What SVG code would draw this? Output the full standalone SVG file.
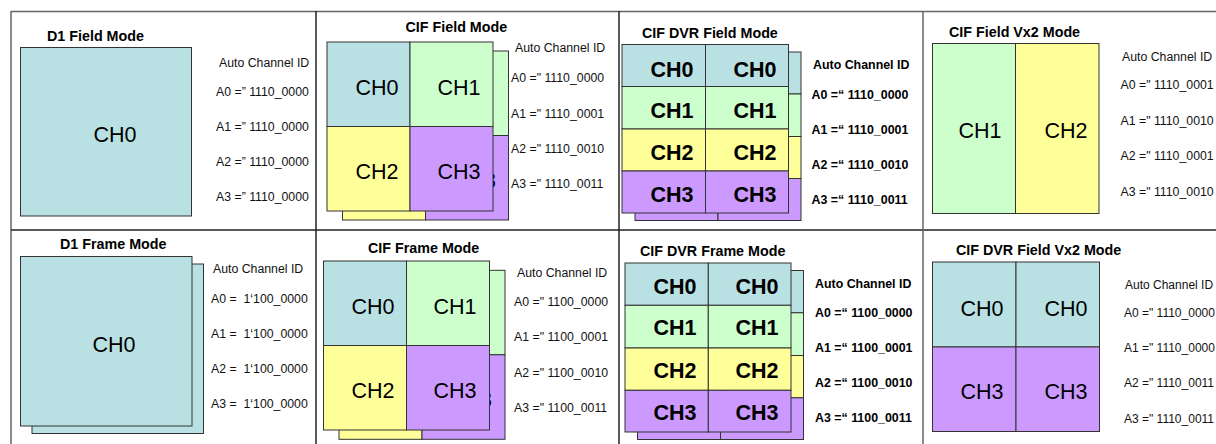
<svg xmlns="http://www.w3.org/2000/svg" width="1216" height="444" viewBox="0 0 1216 444">
<style>
.t{font-family:"Liberation Sans",Arial,sans-serif;font-weight:bold;font-size:14.3px;fill:#000}
.s{font-family:"Liberation Sans",Arial,sans-serif;font-size:12.3px;fill:#111}
.sb{font-family:"Liberation Sans",Arial,sans-serif;font-size:12.4px;font-weight:bold;fill:#000}
.ch{font-family:"Liberation Sans",Arial,sans-serif;font-size:21.5px;text-anchor:middle;fill:#000}
.chb{font-family:"Liberation Sans",Arial,sans-serif;font-size:21.5px;font-weight:bold;text-anchor:middle;fill:#000}
.b{fill:#b9e0e3;stroke:#333;stroke-width:1}
.g{fill:#ccffcc;stroke:#333;stroke-width:1}
.y{fill:#ffff99;stroke:#333;stroke-width:1}
.p{fill:#cc99ff;stroke:#333;stroke-width:1}
.frame{stroke:#666;stroke-width:1.5;fill:none}
.mid{stroke:#222;stroke-width:1.5;fill:none}
</style>
<rect width="1216" height="444" fill="#fff"/>
<g id="frame">
<line class="frame" x1="11" y1="11.5" x2="1216" y2="11.5"/>
<line class="frame" x1="11" y1="11" x2="11" y2="444"/>
<line class="mid" x1="11" y1="230" x2="1216" y2="230"/>
<line class="mid" x1="316" y1="11" x2="316" y2="444"/>
<line class="mid" x1="619" y1="11" x2="619" y2="444"/>
<line class="frame" x1="923" y1="11" x2="923" y2="444"/>
</g>

<g id="d1-field">
<text class="t" x="47" y="41">D1 Field Mode</text>
<rect class="b" x="20.5" y="47.5" width="171" height="168.5"/>
<text class="ch" x="115" y="141.7">CH0</text>
<text class="s" x="219" y="67">Auto Channel ID</text>
<text class="s" x="216" y="96">A0 =” 1110_0000</text>
<text class="s" x="216" y="131">A1 =” 1110_0000</text>
<text class="s" x="216" y="165.5">A2 =” 1110_0000</text>
<text class="s" x="216" y="200.5">A3 =” 1110_0000</text>
</g>

<g id="cif-field">
<text class="t" x="405.5" y="32">CIF Field Mode</text>
<g id="cif-field-back">
<rect class="b" x="342.5" y="51" width="83" height="84.5"/>
<rect class="g" x="425.5" y="51" width="83" height="84.5"/>
<rect class="y" x="342.5" y="135.5" width="83" height="84.5"/>
<rect class="p" x="425.5" y="135.5" width="83" height="84.5"/>
<text class="ch" x="484" y="187.5" style="text-anchor:start">3</text>
</g>
<rect class="b" x="327" y="42" width="83" height="84.5"/>
<rect class="g" x="410" y="42" width="83" height="84.5"/>
<rect class="y" x="327" y="126.5" width="83" height="84.5"/>
<rect class="p" x="410" y="126.5" width="83" height="84.5"/>
<text class="ch" x="377" y="94.5">CH0</text>
<text class="ch" x="459" y="94.5">CH1</text>
<text class="ch" x="377" y="178.5">CH2</text>
<text class="ch" x="459" y="178.5">CH3</text>
<text class="s" x="515" y="52">Auto Channel ID</text>
<text class="s" x="511" y="82">A0 =" 1110_0000</text>
<text class="s" x="511" y="118">A1 =" 1110_0001</text>
<text class="s" x="511" y="153">A2 =" 1110_0010</text>
<text class="s" x="511" y="188">A3 =" 1110_0011</text>
</g>

<g id="cif-dvr-field">
<text class="t" x="642" y="38">CIF DVR Field Mode</text>
<g id="cif-dvr-field-back">
<rect class="b" x="635" y="52" width="83" height="42"/>
<rect class="b" x="718" y="52" width="83" height="42"/>
<rect class="g" x="635" y="94" width="83" height="42.5"/>
<rect class="g" x="718" y="94" width="83" height="42.5"/>
<rect class="y" x="635" y="136.5" width="83" height="42"/>
<rect class="y" x="718" y="136.5" width="83" height="42"/>
<rect class="p" x="635" y="178.5" width="83" height="42"/>
<rect class="p" x="718" y="178.5" width="83" height="42"/>
</g>
<rect class="b" x="622" y="44.5" width="83.5" height="42"/>
<rect class="b" x="705.5" y="44.5" width="83" height="42"/>
<rect class="g" x="622" y="86.5" width="83.5" height="42.5"/>
<rect class="g" x="705.5" y="86.5" width="83" height="42.5"/>
<rect class="y" x="622" y="129" width="83.5" height="42"/>
<rect class="y" x="705.5" y="129" width="83" height="42"/>
<rect class="p" x="622" y="171" width="83.5" height="42"/>
<rect class="p" x="705.5" y="171" width="83" height="42"/>
<text class="chb" x="672" y="76.5">CH0</text>
<text class="chb" x="755" y="76.5">CH0</text>
<text class="chb" x="672" y="118">CH1</text>
<text class="chb" x="755" y="118">CH1</text>
<text class="chb" x="672" y="159.5">CH2</text>
<text class="chb" x="755" y="159.5">CH2</text>
<text class="chb" x="672" y="202">CH3</text>
<text class="chb" x="755" y="202">CH3</text>
<text class="sb" x="813" y="68.5">Auto Channel ID</text>
<text class="sb" x="811.5" y="98.5">A0 =“ 1110_0000</text>
<text class="sb" x="811.5" y="133.5">A1 =“ 1110_0001</text>
<text class="sb" x="811.5" y="168.5">A2 =“ 1110_0010</text>
<text class="sb" x="811.5" y="203.5">A3 =“ 1110_0011</text>
</g>

<g id="cif-field-vx2">
<text class="t" x="949" y="37">CIF Field Vx2 Mode</text>
<rect class="g" x="932.5" y="43.5" width="83" height="170"/>
<rect class="y" x="1015.5" y="43.5" width="83.5" height="170"/>
<text class="ch" x="980" y="137.5">CH1</text>
<text class="ch" x="1066" y="137.5">CH2</text>
<text class="s" x="1122" y="61">Auto Channel ID</text>
<text class="s" x="1120.5" y="89">A0 =" 1110_0001</text>
<text class="s" x="1120.5" y="124.5">A1 =" 1110_0010</text>
<text class="s" x="1120.5" y="160">A2 =" 1110_0001</text>
<text class="s" x="1120.5" y="195.5">A3 =" 1110_0010</text>
</g>

<g id="d1-frame">
<text class="t" x="60" y="249">D1 Frame Mode</text>
<rect class="b" x="32" y="264" width="171.5" height="169.5"/>
<rect class="b" x="20.5" y="256.5" width="171.5" height="169.5"/>
<text class="ch" x="114" y="351.5">CH0</text>
<text class="s" x="213" y="273">Auto Channel ID</text>
<text class="s" x="211" y="302.5">A0 =&#160; 1‘100_0000</text>
<text class="s" x="211" y="337.5">A1 =&#160; 1‘100_0000</text>
<text class="s" x="211" y="372.5">A2 =&#160; 1‘100_0000</text>
<text class="s" x="211" y="407.5">A3 =&#160; 1‘100_0000</text>
</g>

<g id="cif-frame">
<text class="t" x="368" y="253">CIF Frame Mode</text>
<g id="cif-frame-back">
<rect class="b" x="339" y="270.3" width="83" height="84.5"/>
<rect class="g" x="422" y="270.3" width="83" height="84.5"/>
<rect class="y" x="339" y="354.8" width="83" height="84.5"/>
<rect class="p" x="422" y="354.8" width="83" height="84.5"/>
<text class="ch" x="480" y="406.8" style="text-anchor:start">3</text>
</g>
<rect class="b" x="323.5" y="261" width="83" height="84.5"/>
<rect class="g" x="406.5" y="261" width="83" height="84.5"/>
<rect class="y" x="323.5" y="345.5" width="83" height="84.5"/>
<rect class="p" x="406.5" y="345.5" width="83" height="84.5"/>
<text class="ch" x="373" y="313.5">CH0</text>
<text class="ch" x="455" y="313.5">CH1</text>
<text class="ch" x="373" y="397.5">CH2</text>
<text class="ch" x="455" y="397.5">CH3</text>
<text class="s" x="517" y="277">Auto Channel ID</text>
<text class="s" x="514" y="306">A0 =" 1100_0000</text>
<text class="s" x="514" y="341">A1 =" 1100_0001</text>
<text class="s" x="514" y="376.5">A2 =" 1100_0010</text>
<text class="s" x="514" y="411.5">A3 =" 1100_0011</text>
</g>

<g id="cif-dvr-frame">
<text class="t" x="640" y="256">CIF DVR Frame Mode</text>
<g id="cif-dvr-frame-back">
<rect class="b" x="637.5" y="270.5" width="83" height="42.3"/>
<rect class="b" x="720.5" y="270.5" width="83" height="42.3"/>
<rect class="g" x="637.5" y="312.8" width="83" height="42.7"/>
<rect class="g" x="720.5" y="312.8" width="83" height="42.7"/>
<rect class="y" x="637.5" y="355.5" width="83" height="42.3"/>
<rect class="y" x="720.5" y="355.5" width="83" height="42.3"/>
<rect class="p" x="637.5" y="397.8" width="83" height="41.7"/>
<rect class="p" x="720.5" y="397.8" width="83" height="41.7"/>
</g>
<rect class="b" x="625" y="263" width="83.3" height="42.3"/>
<rect class="b" x="708.3" y="263" width="82.7" height="42.3"/>
<rect class="g" x="625" y="305.3" width="83.3" height="42.7"/>
<rect class="g" x="708.3" y="305.3" width="82.7" height="42.7"/>
<rect class="y" x="625" y="348" width="83.3" height="42.3"/>
<rect class="y" x="708.3" y="348" width="82.7" height="42.3"/>
<rect class="p" x="625" y="390.3" width="83.3" height="41.7"/>
<rect class="p" x="708.3" y="390.3" width="82.7" height="41.7"/>
<text class="chb" x="675" y="293.5">CH0</text>
<text class="chb" x="757" y="293.5">CH0</text>
<text class="chb" x="675" y="335">CH1</text>
<text class="chb" x="757" y="335">CH1</text>
<text class="chb" x="675" y="377.5">CH2</text>
<text class="chb" x="757" y="377.5">CH2</text>
<text class="chb" x="675" y="419.5">CH3</text>
<text class="chb" x="757" y="419.5">CH3</text>
<text class="sb" x="815" y="288">Auto Channel ID</text>
<text class="sb" x="815" y="317">A0 =“ 1100_0000</text>
<text class="sb" x="815" y="351.5">A1 =“ 1100_0001</text>
<text class="sb" x="815" y="386.5">A2 =“ 1100_0010</text>
<text class="sb" x="815" y="422">A3 =“ 1100_0011</text>
</g>

<g id="cif-dvr-field-vx2">
<text class="t" x="956" y="255">CIF DVR Field Vx2 Mode</text>
<rect class="b" x="932.5" y="262" width="83.5" height="85"/>
<rect class="b" x="1016" y="262" width="83.5" height="85"/>
<rect class="p" x="932.5" y="347" width="83.5" height="84.5"/>
<rect class="p" x="1016" y="347" width="83.5" height="84.5"/>
<text class="ch" x="982" y="315.5">CH0</text>
<text class="ch" x="1066" y="315.5">CH0</text>
<text class="ch" x="982" y="398.5">CH3</text>
<text class="ch" x="1066" y="398.5">CH3</text>
<text class="s" x="1125" y="289" style="font-size:12px">Auto Channel ID</text>
<text class="s" x="1124" y="317" style="font-size:12px">A0 =" 1110_0000</text>
<text class="s" x="1124" y="352" style="font-size:12px">A1 =" 1110_0000</text>
<text class="s" x="1124" y="387" style="font-size:12px">A2 =" 1110_0011</text>
<text class="s" x="1124" y="423" style="font-size:12px">A3 =" 1110_0011</text>
</g>
</svg>
